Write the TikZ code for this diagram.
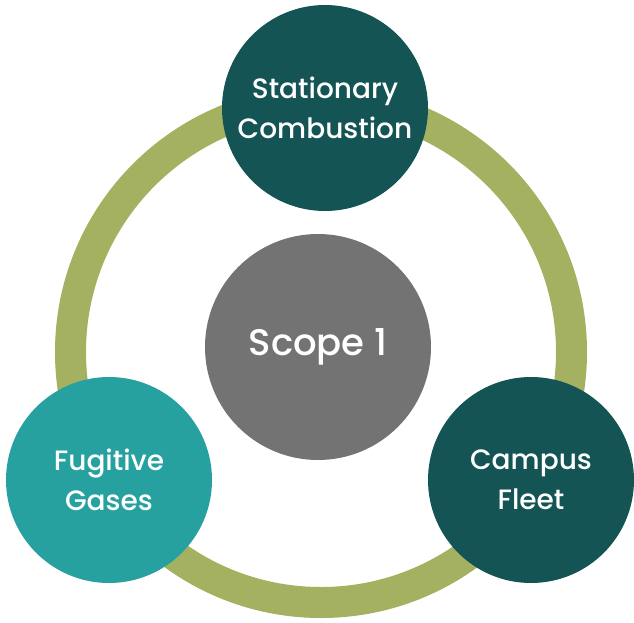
\documentclass[tikz,border=0pt]{standalone}
\usepackage{fontspec}
\setmainfont{Poppins}[UprightFont=* Medium]
\usepackage{tikz}
\definecolor{Olive}{RGB}{163, 177, 97}
\definecolor{DarkTeal}{RGB}{20, 84, 84}
\definecolor{LightTeal}{RGB}{39, 161, 159}
\definecolor{Slate}{RGB}{114, 115, 114}

\tikzset{
  bubble/.style={circle, inner sep=0pt, minimum size=206pt, text=white,
    align=center, font=\fontsize{28}{40}\selectfont},
}

\begin{document}
\begin{tikzpicture}[x=1pt, y=-1pt]
  \useasboundingbox (0,0) rectangle (634,623);
  % ring behind the bubbles
  \node[circle, draw=Olive, line width=31pt, inner sep=0pt, minimum size=501pt] (ring) at (321,352) {};
  \node[circle, fill=Slate, inner sep=0pt, minimum size=226pt, text=white,
    font=\fontsize{37}{40}\selectfont] (scope) at (318,347) {Scope 1};
  \node[bubble, fill=DarkTeal] (stationary) at (325,108) {Stationary\\Combustion};
  \node[bubble, fill=LightTeal] (fugitive) at (109,480) {Fugitive\\Gases};
  \node[bubble, fill=DarkTeal] (fleet) at (531,480) {Campus\\Fleet};
\end{tikzpicture}
\end{document}
